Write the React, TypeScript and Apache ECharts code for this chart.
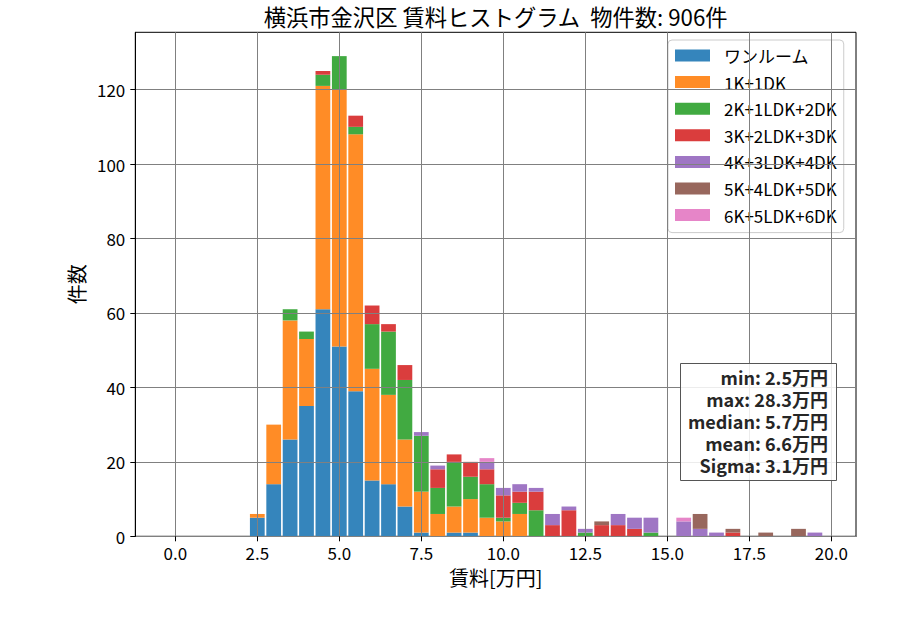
import React, { useEffect, useRef } from "react";
import * as echarts from "echarts";

const FONT = "'Noto Sans CJK JP', 'Noto Sans', sans-serif";

const titleText = "横浜市金沢区 賃料ヒストグラム  物件数: 906件";
const xName = "賃料[万円]";
const yName = "件数";

const bins = [
  2.5, 3.0, 3.5, 4.0, 4.5, 5.0, 5.5, 6.0, 6.5, 7.0, 7.5, 8.0, 8.5, 9.0, 9.5, 10.0, 10.5, 11.0,
  11.5, 12.0, 12.5, 13.0, 13.5, 14.0, 14.5, 15.0, 15.5, 16.0, 16.5, 17.0, 17.5, 18.0, 18.5, 19.0, 19.5,
];
const binWidth = 0.5;

const seriesNames = [
  "ワンルーム",
  "1K+1DK",
  "2K+1LDK+2DK",
  "3K+2LDK+3DK",
  "4K+3LDK+4DK",
  "5K+4LDK+5DK",
  "6K+5LDK+6DK",
];

const colors = ["#3585bc", "#ff8c26", "#41aa41", "#da3d3d", "#9f76c4", "#98675d", "#e685c8"];

const oneRoom = [5, 14, 26, 35, 61, 51, 39, 15, 14, 8, 1, 0, 1, 1, 0, 0, 0, 0, 0, 0, 0, 0, 0, 0, 0, 0, 0, 0, 0, 0, 0, 0, 0, 0, 0];
const k1 = [1, 16, 32, 18, 60, 69, 69, 30, 24, 18, 11, 6, 7, 9, 5, 4, 6, 0, 0, 0, 0, 0, 0, 0, 0, 0, 0, 0, 0, 0, 0, 0, 0, 0, 0];
const k2 = [0, 0, 3, 2, 3, 9, 2, 12, 17, 16, 15, 7, 12, 6, 9, 1, 3, 7, 0, 0, 1, 0, 0, 0, 1, 0, 0, 0, 0, 0, 0, 0, 0, 0, 0];
const k3 = [0, 0, 0, 0, 1, 0, 3, 5, 2, 4, 0, 5, 2, 4, 4, 6, 3, 5, 3, 7, 0, 3, 3, 2, 0, 0, 0, 0, 0, 1, 0, 0, 0, 0, 0];
const k4 = [0, 0, 0, 0, 0, 0, 0, 0, 0, 0, 1, 1, 0, 0, 2, 2, 2, 1, 3, 1, 1, 0, 3, 3, 4, 0, 4, 2, 1, 0, 0, 0, 0, 0, 1];
const k5 = [0, 0, 0, 0, 0, 0, 0, 0, 0, 0, 0, 0, 0, 0, 0, 0, 0, 0, 0, 0, 0, 1, 0, 0, 0, 0, 0, 4, 0, 1, 0, 1, 0, 2, 0];
const k6 = [0, 0, 0, 0, 0, 0, 0, 0, 0, 0, 0, 0, 0, 0, 1, 0, 0, 0, 0, 0, 0, 0, 0, 0, 0, 0, 1, 0, 0, 0, 0, 0, 0, 0, 0];

const seriesValues = [oneRoom, k1, k2, k3, k4, k5, k6];

const yTicks = [0, 20, 40, 60, 80, 100, 120];

const statLines = ["min: 2.5万円", "max: 28.3万円", "median: 5.7万円", "mean: 6.6万円", "Sigma: 3.1万円"];

// layout
const PL = 135.3, PT = 32.3, PR = 856, PB = 536.3;
const X0 = 175.3, X20 = 831.3;
const Y_MAX = 135.4;

export default function App() {
  const ref = useRef<HTMLDivElement>(null);
  useEffect(() => {
    if (!ref.current) return;
    const chart = echarts.init(ref.current, null, { renderer: "svg" });
    const ppu = (X20 - X0) / 20;
    const xMin = -(X0 - PL) / ppu;
    const xMax = (PR - X0) / ppu;
    const barLeft = X0 + (bins[0] - binWidth / 2) * ppu;
    const barGridWidth = bins.length * binWidth * ppu;

    const option: any = {
      animation: false,
      backgroundColor: "#fff",
      textStyle: { fontFamily: FONT },
      grid: [
        {
          left: PL, top: PT, width: PR - PL, height: PB - PT,
          show: true, borderColor: "#000", borderWidth: 1, backgroundColor: "transparent",
        },
        { left: X0, top: PT, width: X20 - X0, height: PB - PT },
        { left: barLeft, top: PT, width: barGridWidth, height: PB - PT },
      ],
      xAxis: [
        {
          type: "value", gridIndex: 0, min: xMin, max: xMax,
          axisLine: { show: true, onZero: false, lineStyle: { color: "#000", width: 1 } },
          axisTick: { show: false }, axisLabel: { show: false }, splitLine: { show: false },
          name: xName, nameLocation: "middle", nameGap: 31,
          nameTextStyle: { fontSize: 20, color: "#000", fontFamily: FONT },
        },
        {
          type: "value", gridIndex: 1, min: 0, max: 20, interval: 2.5, z: 10,
          axisLine: { show: false, onZero: false },
          axisTick: { show: true, inside: false, length: 5, lineStyle: { color: "#000", width: 1 } },
          axisLabel: {
            show: true, margin: 8, fontSize: 17, color: "#000", fontFamily: FONT,
            formatter: (v: number) => v.toFixed(1),
          },
          splitLine: { show: true, lineStyle: { color: "#808080", width: 1 } },
        },
        {
          type: "category", gridIndex: 2, data: bins.map((b) => String(b)), boundaryGap: true, show: false,
        },
      ],
      yAxis: [
        {
          type: "value", gridIndex: 0, min: 0, max: Y_MAX, z: 10,
          axisLine: { show: true, onZero: false, lineStyle: { color: "#000", width: 1 } },
          axisTick: { show: true, inside: false, length: 5, customValues: yTicks, lineStyle: { color: "#000", width: 1 } },
          axisLabel: { show: true, margin: 10, fontSize: 17, color: "#000", fontFamily: FONT, customValues: yTicks },
          splitLine: { show: true, lineStyle: { color: "#808080", width: 1 } },
          name: yName, nameLocation: "middle", nameGap: 48,
          nameTextStyle: { fontSize: 20, color: "#000", fontFamily: FONT },
        },
        { type: "value", gridIndex: 1, min: 0, max: 1, show: false },
        { type: "value", gridIndex: 2, min: 0, max: Y_MAX, show: false },
      ],
      legend: {
        orient: "vertical", left: 668, top: 40,
        itemWidth: 35, itemHeight: 12, itemGap: 9.6, icon: "rect",
        padding: [7, 7, 9, 7],
        backgroundColor: "rgba(255,255,255,0.8)", borderColor: "#cccccc", borderWidth: 1, borderRadius: 4,
        textStyle: { fontSize: 17, lineHeight: 16, color: "#000", fontFamily: FONT, padding: [0, 0, 0, 9] },
        data: seriesNames,
      },
      graphic: [
        {
          type: "text", x: (PL + PR) / 2, y: 16, z: 20,
          style: { text: titleText, fontSize: 22.3, fontFamily: FONT, fill: "#000", align: "center", verticalAlign: "middle" },
        },
        {
          type: "rect", z: 20,
          shape: { x: 680.5, y: 363.5, width: 156, height: 117 },
          style: { fill: "rgba(255,255,255,0.85)", stroke: "#555", lineWidth: 1 },
        },
        ...statLines.map((t, i) => ({
          type: "text", x: 828, y: 377.3 + i * 21.9, z: 21,
          style: {
            text: t, fontSize: 18, lineHeight: 20, fontWeight: "bold", fontFamily: FONT, fill: "#262626",
            align: "right", verticalAlign: "middle",
          },
        })),
      ],
      series: seriesNames.map((name, si) => ({
        name, type: "bar", stack: "total", xAxisIndex: 2, yAxisIndex: 2,
        barWidth: "90%",
        itemStyle: { color: colors[si] },
        data: seriesValues[si],
      })),
    };
    chart.setOption(option);
    return () => chart.dispose();
  }, []);
  return <div ref={ref} style={{ position: "absolute", left: 0, top: 0, width: 900, height: 630 }} />;
}
